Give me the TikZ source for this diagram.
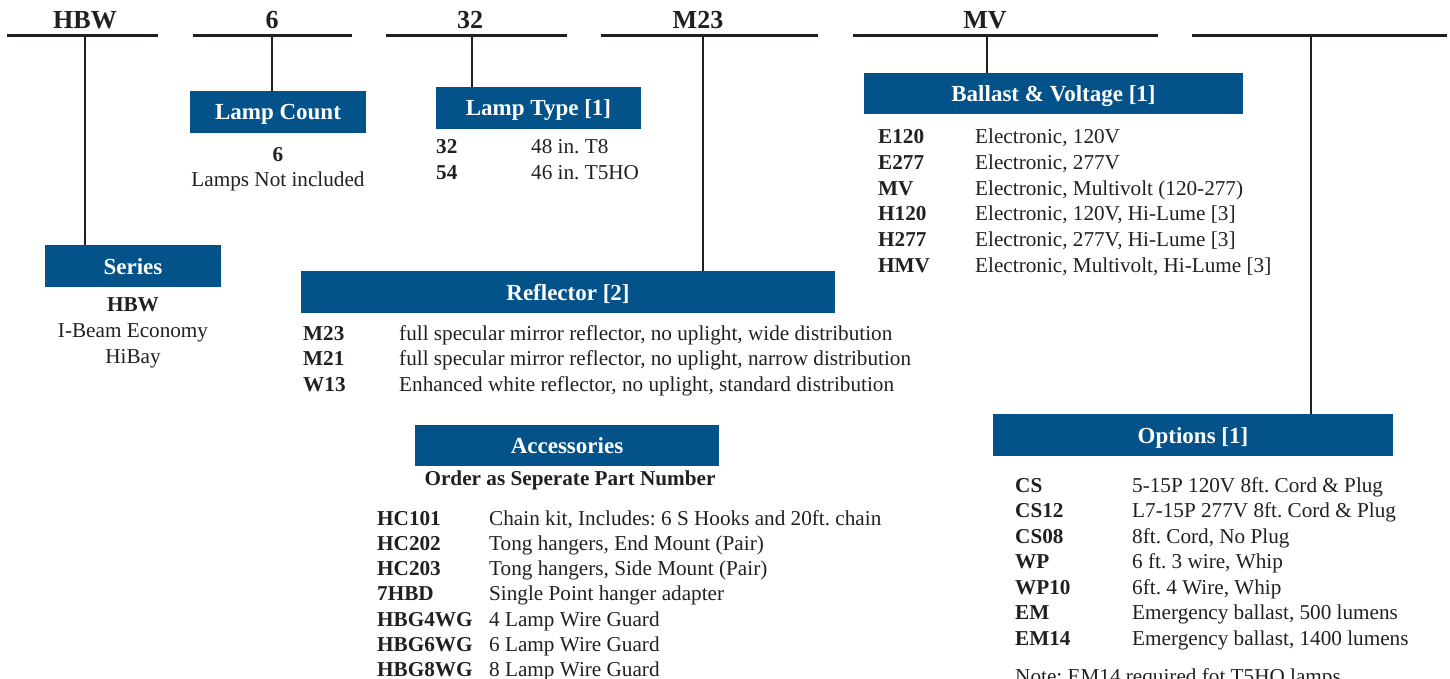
\documentclass[tikz,border=0pt]{standalone}
\usepackage{fontspec}
\setmainfont{Liberation Serif}
\definecolor{boxblue}{RGB}{3,83,138}
\definecolor{ink}{RGB}{35,31,32}
\frenchspacing
\begin{document}
\begin{tikzpicture}[x=1pt,y=-1pt,
  rule/.style={line width=3pt, draw=ink},
  stem/.style={line width=2.5pt, draw=ink},
  hdr/.style={font=\fontsize{26}{30}\selectfont\bfseries, text=ink, anchor=base, inner sep=0},
  titlebox/.style={fill=boxblue, draw=none, inner sep=0, text=white,
     font=\fontsize{23}{27}\selectfont\bfseries, text height=16, text depth=0},
  code/.style={font=\fontsize{21.2}{25}\selectfont\bfseries, text=ink, anchor=base west, inner sep=0},
  desc/.style={font=\fontsize{21.2}{25}\selectfont, text=ink, anchor=base west, inner sep=0},
  ctext/.style={font=\fontsize{21.2}{25}\selectfont, text=ink, anchor=base, inner sep=0},
  cbold/.style={font=\fontsize{21.2}{25}\selectfont\bfseries, text=ink, anchor=base, inner sep=0}]
\useasboundingbox (0,0) rectangle (1450,679);

% header rules
\coordinate (r1a) at (7,36);    \coordinate (r1b) at (158,36);
\coordinate (r2a) at (193,36);  \coordinate (r2b) at (352,36);
\coordinate (r3a) at (386,36);  \coordinate (r3b) at (567,36);
\coordinate (r4a) at (601,36);  \coordinate (r4b) at (818,36);
\coordinate (r5a) at (853,36);  \coordinate (r5b) at (1158,36);
\coordinate (r6a) at (1192,36); \coordinate (r6b) at (1447,36);
\foreach \n in {1,...,6} {\draw[rule] (r\n a) -- (r\n b);}

% header labels
\node[hdr] (h1) at (85,29) {HBW};
\node[hdr] (h2) at (272,29) {6};
\node[hdr] (h3) at (470,29) {32};
\node[hdr] (h4) at (698,29) {M23};
\node[hdr] (h5) at (985,29) {MV};

% stem top points
\coordinate (s1) at (85,36);
\coordinate (s2) at (272,36);
\coordinate (s3) at (472,36);
\coordinate (s4) at (703,36);
\coordinate (s5) at (987,36);
\coordinate (s6) at (1311,36);

% title boxes
\node[titlebox, minimum width=176, minimum height=42] (series) at (133,266) {Series};
\node[titlebox, minimum width=176, minimum height=42] (lampcount) at (278,112) {Lamp Count};
\node[titlebox, minimum width=205, minimum height=42] (lamptype) at (538.5,108) {Lamp Type [1]};
\node[titlebox, minimum width=534, minimum height=42] (reflector) at (568,292) {Reflector [2]};
\node[titlebox, minimum width=379, minimum height=41] (ballast) at (1053.5,93.5) {Ballast \& Voltage [1]};
\node[titlebox, minimum width=304, minimum height=41] (accessories) at (567,445.5) {Accessories};
\node[titlebox, minimum width=400, minimum height=42] (options) at (1193,435) {Options [1]};

% stems
\draw[stem] (s1) -- (s1 |- series.north);
\draw[stem] (s2) -- (s2 |- lampcount.north);
\draw[stem] (s3) -- (s3 |- lamptype.north);
\draw[stem] (s4) -- (s4 |- reflector.north);
\draw[stem] (s5) -- (s5 |- ballast.north);
\draw[stem] (s6) -- (s6 |- options.north);

% series text
\node[cbold] (ser1) at (133,311) {HBW};
\node[ctext] (ser2) at (133,337) {I-Beam Economy};
\node[ctext] (ser3) at (133,363) {HiBay};

% lamp count text
\node[cbold] (lc1) at (278,162) {6};
\node[ctext] (lc2) at (278,186) {Lamps Not included};

% lamp type rows
\foreach \c/\d [count=\i from 0] in {32/{48 in. T8}, 54/{46 in. T5HO}} {
  \node[code] (lt-c\i) at (436,154+25.6*\i) {\c};
  \node[desc] (lt-d\i) at (531,154+25.6*\i) {\d};
}

% reflector rows
\foreach \c/\d [count=\i from 0] in {
  M23/{full specular mirror reflector, no uplight, wide distribution},
  M21/{full specular mirror reflector, no uplight, narrow distribution},
  W13/{Enhanced white reflector, no uplight, standard distribution}} {
  \node[code] (rf-c\i) at (303,340+25.5*\i) {\c};
  \node[desc] (rf-d\i) at (399,340+25.5*\i) {\d};
}

% ballast rows
\foreach \c/\d [count=\i from 0] in {
  E120/{Electronic, 120V},
  E277/{Electronic, 277V},
  MV/{Electronic, Multivolt (120-277)},
  H120/{Electronic, 120V, Hi-Lume [3]},
  H277/{Electronic, 277V, Hi-Lume [3]},
  HMV/{Electronic, Multivolt, Hi-Lume [3]}} {
  \node[code] (bv-c\i) at (878,144+25.6*\i) {\c};
  \node[desc] (bv-d\i) at (975,144+25.6*\i) {\d};
}

% accessories
\node[cbold] (acc-sub) at (570,485) {Order as Seperate Part Number};
\foreach \c/\d [count=\i from 0] in {
  HC101/{Chain kit, Includes: 6 S Hooks and 20ft. chain},
  HC202/{Tong hangers, End Mount (Pair)},
  HC203/{Tong hangers, Side Mount (Pair)},
  7HBD/{Single Point hanger adapter},
  HBG4WG/{4 Lamp Wire Guard},
  HBG6WG/{6 Lamp Wire Guard},
  HBG8WG/{8 Lamp Wire Guard}} {
  \node[code] (ac-c\i) at (377,525+25.33*\i) {\c};
  \node[desc] (ac-d\i) at (489,525+25.33*\i) {\d};
}

% options
\foreach \c/\d [count=\i from 0] in {
  CS/{5-15P 120V 8ft. Cord \& Plug},
  CS12/{L7-15P 277V 8ft. Cord \& Plug},
  CS08/{8ft. Cord, No Plug},
  WP/{6 ft. 3 wire, Whip},
  WP10/{6ft. 4 Wire, Whip},
  EM/{Emergency ballast, 500 lumens},
  EM14/{Emergency ballast, 1400 lumens}} {
  \node[code] (op-c\i) at (1015,492+25.5*\i) {\c};
  \node[desc] (op-d\i) at (1132,492+25.5*\i) {\d};
}
\node[desc] (note) at (1015,683) {Note: EM14 required fot T5HO lamps};
\end{tikzpicture}
\end{document}
